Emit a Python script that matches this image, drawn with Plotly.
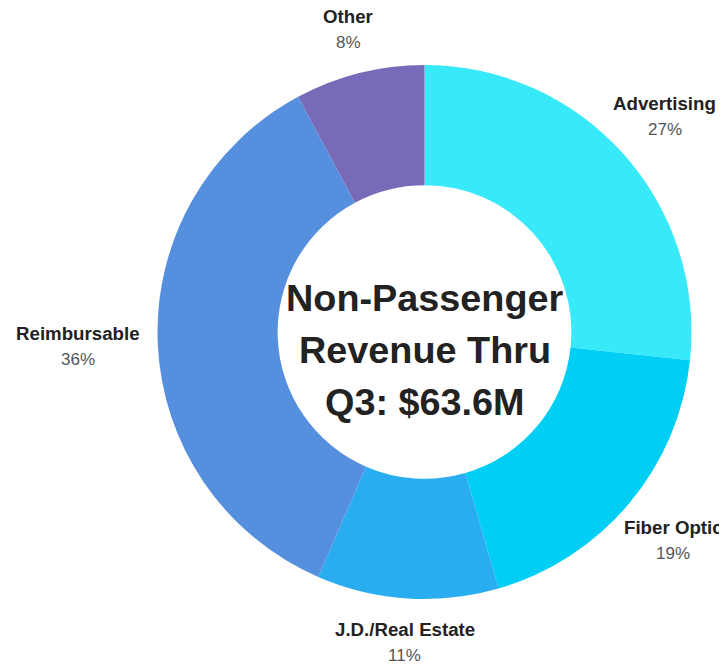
import math
import plotly.graph_objects as go

# ---- data ----
labels = ["Advertising", "Fiber Optic", "J.D./Real Estate", "Reimbursable", "Other"]
values = [17.0, 12.0, 7.0, 22.7, 5.0]          # $M, total ~63.6
colors = ["#38EAF9", "#00CEF5", "#29ADF0", "#568FDD", "#766AB9"]
center_lines = ["Non-Passenger", "Revenue Thru", "Q3: $63.6M"]

# ---- geometry (screen pixels; page body has an 8px margin) ----
OFF = 8
W, H = 727 - OFF, 664 - OFF
CX, CY, R = 424.5 - OFF, 332.0 - OFF, 267.0
HOLE = 0.55
FONT = "Liberation Sans, Arial, sans-serif"

fig = go.Figure(go.Pie(
    labels=labels, values=values, hole=HOLE, sort=False,
    direction="clockwise", rotation=0,
    marker=dict(colors=colors, line=dict(color="white", width=0)),
    textinfo="none", hoverinfo="label+percent",
    domain=dict(x=[(CX - R) / W, (CX + R) / W], y=[1 - (CY + R) / H, 1 - (CY - R) / H]),
    showlegend=False,
))

def px2paper(x, y):
    return x / W, 1 - y / H

annotations = []
total = sum(values)
cum = 0.0
for name, v in zip(labels, values):
    frac = v / total
    mid = (cum + frac / 2) * 2 * math.pi
    cum += frac
    s, c = math.sin(mid), math.cos(mid)
    r0 = R + 20
    px, py = CX + r0 * s, CY - r0 * c
    hw = len(name) * 10.0 / 2
    hh = 24
    t = min(hw / max(abs(s), 1e-6), hh / max(abs(c), 1e-6))
    lx, ly = px + t * s, py - t * c
    x1, y1 = px2paper(lx, ly - 13)
    x2, y2 = px2paper(lx, ly + 13)
    annotations.append(dict(x=x1, y=y1, xref="paper", yref="paper", showarrow=False,
                            text=f"<b>{name}</b>", xanchor="center", yanchor="middle",
                            font=dict(family=FONT, size=18.7, color="#222222")))
    annotations.append(dict(x=x2, y=y2, xref="paper", yref="paper", showarrow=False,
                            text=f"{round(frac * 100)}%", xanchor="center", yanchor="middle",
                            font=dict(family=FONT, size=17, color="#555555")))

for i, line in enumerate(center_lines):
    x, y = px2paper(CX, 350 - OFF + (i - 1) * 52.5)
    annotations.append(dict(x=x, y=y, xref="paper", yref="paper", showarrow=False,
                            text=f"<b>{line}</b>", xanchor="center", yanchor="middle",
                            font=dict(family=FONT, size=37.8, color="#222222")))

fig.update_layout(
    width=W, height=H, margin=dict(l=0, r=0, t=0, b=0),
    paper_bgcolor="white", plot_bgcolor="white",
    annotations=annotations,
)

fig.write_html("out.html")
